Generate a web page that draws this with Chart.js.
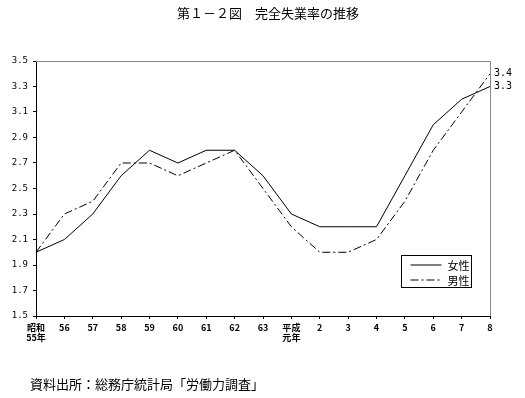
<!DOCTYPE html>
<html>
<head>
<meta charset="utf-8">
<script src="https://cdn.jsdelivr.net/npm/chart.js@4"></script>
<style>
  html, body { margin: 0; padding: 0; background: #fff; }
  #wrap { width: 525px; height: 398px; }
</style>
</head>
<body>
<div id="wrap"><canvas id="myChart" width="525" height="398"></canvas></div>
<script>
const years = [['昭和', '55年'], '56', '57', '58', '59', '60', '61', '62', '63', ['平成', '元年'], '2', '3', '4', '5', '6', '7', '8']
const josei = [2.0, 2.1, 2.3, 2.6, 2.8, 2.7, 2.8, 2.8, 2.6, 2.3, 2.2, 2.2, 2.2, 2.6, 3.0, 3.2, 3.3]
const dansei = [2.0, 2.3, 2.4, 2.7, 2.7, 2.6, 2.7, 2.8, 2.5, 2.2, 2.0, 2.0, 2.1, 2.4, 2.8, 3.1, 3.4]
const yTicks = [1.5, 1.7, 1.9, 2.1, 2.3, 2.5, 2.7, 2.9, 3.1, 3.3, 3.5]

const title = '第１－２図　完全失業率の推移'
const source = '資料出所：総務庁統計局「労働力調査」'
const jp = '"Noto Sans CJK JP", sans-serif'
const mono = '"DejaVu Sans Mono", monospace'

// title, frame, legend box, end labels, source
const extras = {
    id: 'extras',
    afterDraw(chart) {
        const c = chart.ctx
        const a = chart.chartArea
        c.save()
        c.fillStyle = '#000'
        c.font = '13px ' + jp
        c.textAlign = 'center'
        c.textBaseline = 'middle'
        c.fillText(title, 268, 13)

        c.textAlign = 'left'
        c.font = '13px ' + jp
        c.fillText(source, 30, 384)

        // top and right border
        c.strokeStyle = '#888'
        c.lineWidth = 1
        c.beginPath()
        c.moveTo(a.left, a.top + 0.5)
        c.lineTo(a.right + 0.5, a.top + 0.5)
        c.lineTo(a.right + 0.5, a.bottom)
        c.stroke()

        // end values
        c.font = '10px ' + mono
        chart.data.datasets.forEach((ds, i) => {
            const meta = chart.getDatasetMeta(i)
            const p = meta.data[meta.data.length - 1]
            c.fillText(ds.data[ds.data.length - 1].toFixed(1), p.x + 4, p.y)
        })

        // legend
        const bx = 401.5, by = 255.5, bw = 70, bh = 32
        c.strokeStyle = '#000'
        c.strokeRect(bx, by, bw, bh)
        c.font = '11px ' + jp
        chart.data.datasets.forEach((ds, i) => {
            const y = by + 9 + i * 15
            c.setLineDash(ds.borderDash || [])
            c.beginPath()
            c.moveTo(bx + 9, y + 0.5)
            c.lineTo(bx + 40, y + 0.5)
            c.stroke()
            c.setLineDash([])
            c.fillText(ds.label, bx + 46, y + 1)
        })
        c.restore()
    }
}

var ctx = document.getElementById('myChart').getContext('2d')
var chart = new Chart(ctx, {
    type: 'line',
    data: {
        labels: years,
        datasets: [{
            label: '女性',
            data: josei,
            borderColor: '#000',
            borderWidth: 1,
            pointRadius: 0,
            tension: 0
        },
        {
            label: '男性',
            data: dansei,
            borderColor: '#000',
            borderWidth: 1,
            borderDash: [8, 3, 2, 3],
            pointRadius: 0,
            tension: 0
        }]
    },
    options: {
        responsive: false,
        animation: false,
        layout: { padding: { left: 0, right: 35, top: 61, bottom: 0 } },
        plugins: {
            legend: { display: false },
            tooltip: { enabled: false }
        },
        scales: {
            x: {
                offset: false,
                afterFit(s) { s.height = 82 },
                grid: { drawOnChartArea: false, drawTicks: true, tickLength: 3, color: '#000' },
                border: { color: '#000' },
                ticks: {
                    color: '#000',
                    maxRotation: 0,
                    autoSkip: false,
                    padding: 3,
                    font: { family: jp, size: 9, weight: 'bold', lineHeight: 1.15 }
                }
            },
            y: {
                min: 1.5,
                max: 3.5,
                afterFit(s) { s.width = 36 },
                afterBuildTicks(s) { s.ticks = yTicks.map(v => ({ value: v })) },
                grid: { drawOnChartArea: false, drawTicks: true, tickLength: 3, color: '#000' },
                border: { color: '#000' },
                ticks: {
                    color: '#000',
                    padding: 5,
                    font: { family: mono, size: 9 },
                    callback: v => v.toFixed(1)
                }
            }
        }
    },
    plugins: [extras]
})
</script>
</body>
</html>
